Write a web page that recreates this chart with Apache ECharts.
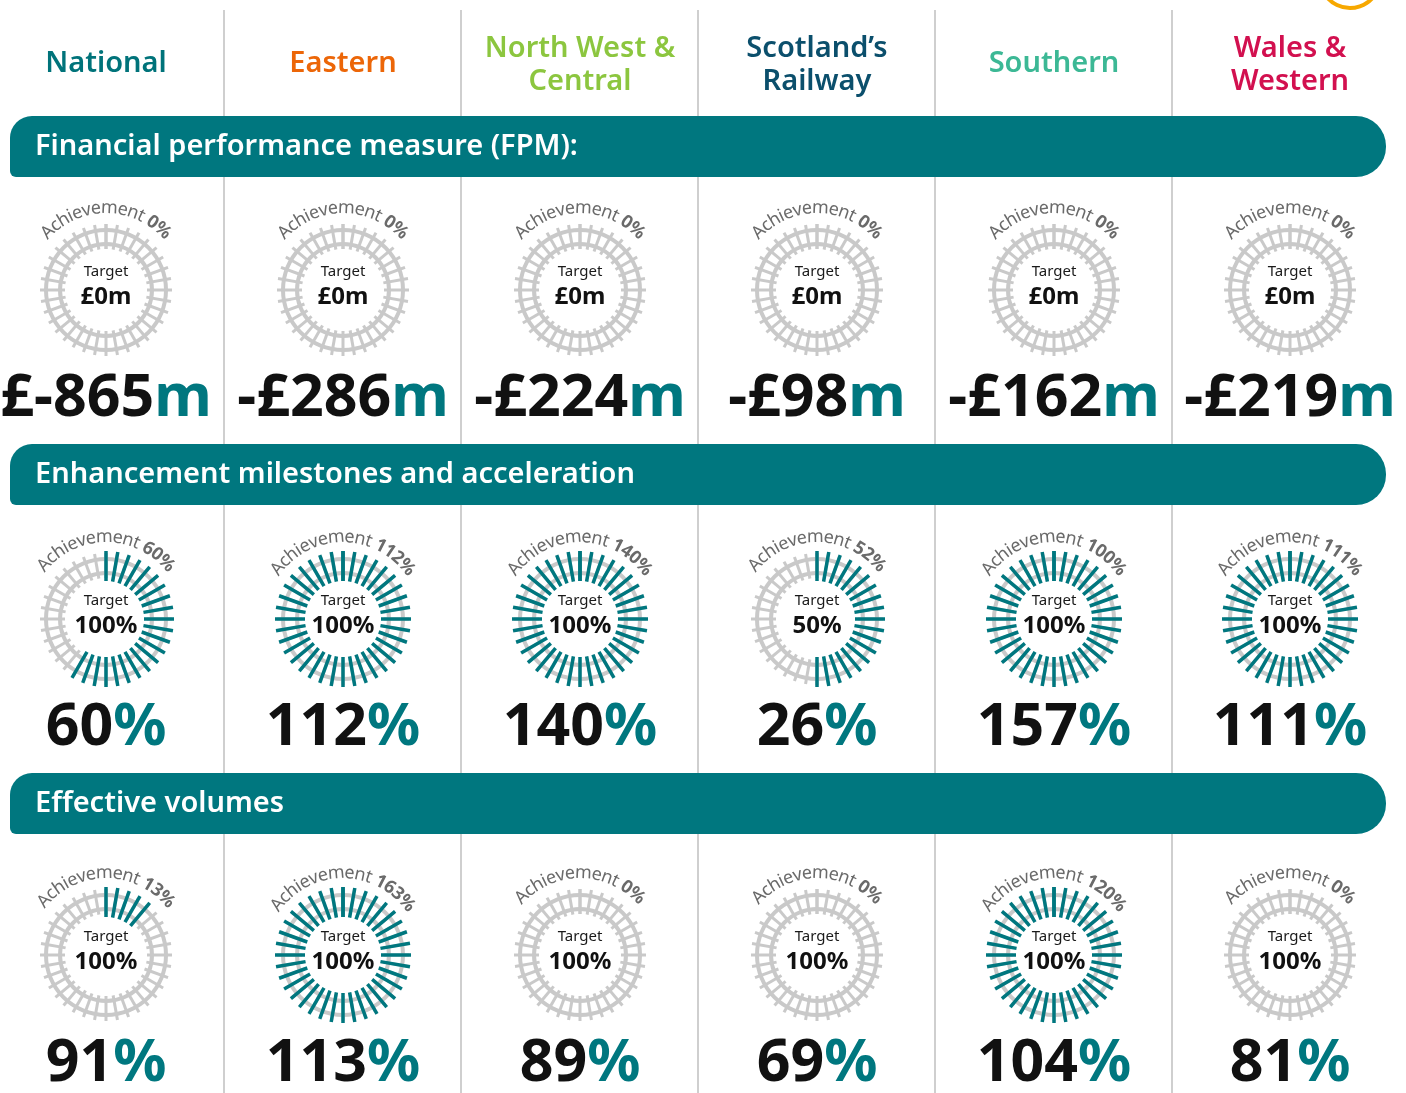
<!DOCTYPE html>
<html>
<head>
<meta charset="utf-8">
<script src="https://cdn.jsdelivr.net/npm/echarts@6/dist/echarts.min.js"></script>
<style>
  html, body { margin: 0; padding: 0; background: #fff; }
  #main { width: 1406px; height: 1093px; }
</style>
</head>
<body>
<div id="main"></div>
<script>
// region columns
var regions = ['National', 'Eastern', 'North West &\nCentral', 'Scotland\u2019s\nRailway', 'Southern', 'Wales &\nWestern'];
var sections = ['Financial performance measure (FPM):', 'Enhancement milestones and acceleration', 'Effective volumes'];

// FPM row
var fpmAchievement = [0, 0, 0, 0, 0, 0];
var fpmTarget = ['\u00a30m', '\u00a30m', '\u00a30m', '\u00a30m', '\u00a30m', '\u00a30m'];
var fpmActual = ['\u00a3-865', '-\u00a3286', '-\u00a3224', '-\u00a398', '-\u00a3162', '-\u00a3219'];

// enhancement row
var enhAchievement = [60, 112, 140, 52, 100, 111];
var enhTarget = ['100%', '100%', '100%', '50%', '100%', '100%'];
var enhActual = [60, 112, 140, 26, 157, 111];

// effective volumes row
var volAchievement = [13, 163, 0, 0, 120, 0];
var volTarget = ['100%', '100%', '100%', '100%', '100%', '100%'];
var volActual = [91, 113, 89, 69, 104, 81];

var TEAL = '#00777f';
var GREY = '#c9c9c9';
var FONT = '"Noto Sans", "Open Sans", sans-serif';
var headColors = ['#00737a', '#ec6608', '#8cc63f', '#0b4f6c', '#3cb895', '#d2104f'];

var colX = [106, 343, 580, 817, 1054, 1290];
var dividerX = [224, 461, 698, 935, 1172];
var bannerY = [116, 444, 773];
var gaugeY = [290, 619, 955];
var bigY = [399, 728, 1064];

var rows = [
  { ach: fpmAchievement, target: fpmTarget, actual: fpmActual, unit: 'm' },
  { ach: enhAchievement, target: enhTarget, actual: enhActual, unit: '%' },
  { ach: volAchievement, target: volTarget, actual: volActual, unit: '%' }
];

var chart = echarts.init(document.getElementById('main'));

// measuring text for the curved labels
var ctx = document.createElement('canvas').getContext('2d');
function measure(txt, weight, size) {
  ctx.font = weight + ' ' + size + 'px ' + FONT;
  return ctx.measureText(txt).width;
}

function arcText(cx, cy, r, parts) {
  var out = [];
  var total = 0;
  parts.forEach(function (p) { total += measure(p.text, p.weight, p.size); });
  var acc = 0;
  var start = -total / 2 / r;
  parts.forEach(function (p) {
    for (var i = 0; i < p.text.length; i++) {
      var ch = p.text[i];
      var w = measure(ch, p.weight, p.size);
      var a = start + (acc + w / 2) / r;
      acc += w;
      if (ch === ' ') continue;
      out.push({
        type: 'text',
        x: cx + r * Math.sin(a),
        y: cy - r * Math.cos(a),
        rotation: -a,
        silent: true,
        style: {
          text: ch, x: 0, y: 0, align: 'center', verticalAlign: 'middle',
          fill: '#6a6a6a', font: p.weight + ' ' + p.size + 'px ' + FONT
        }
      });
    }
  });
  return out;
}

function gaugeBase(cx, cy, v) {
  return {
    type: 'gauge',
    center: [cx, cy],
    startAngle: 90,
    endAngle: -270,
    min: 0,
    max: 100,
    splitNumber: 36,
    silent: true,
    animation: false,
    pointer: { show: false },
    anchor: { show: false },
    axisTick: { show: false },
    axisLabel: { show: false },
    detail: { show: false },
    title: { show: false },
    data: [{ value: v }]
  };
}

var series = [];
var graphics = [];

// column dividers
dividerX.forEach(function (x) {
  graphics.push({
    type: 'line', silent: true, z: 1,
    shape: { x1: x, y1: 10, x2: x, y2: 1093 },
    style: { stroke: '#cfcfcf', lineWidth: 2 }
  });
});

// little logo arc in the corner
graphics.push({
  type: 'arc', silent: true,
  shape: { cx: 1350, cy: -22, r: 30, startAngle: 0.45, endAngle: 2.6 },
  style: { stroke: '#f7a800', lineWidth: 4, fill: null }
});

// region headings
regions.forEach(function (name, i) {
  graphics.push({
    type: 'text', silent: true,
    x: colX[i], y: name.indexOf('\n') >= 0 ? 65 : 64,
    style: {
      text: name, align: 'center', verticalAlign: 'middle',
      font: '600 29px ' + FONT, fill: headColors[i], lineHeight: 33
    }
  });
});

// section banners
sections.forEach(function (s, k) {
  graphics.push({
    type: 'rect', silent: true, z: 5,
    shape: { x: 10, y: bannerY[k], width: 1376, height: 61, r: [22, 30, 30, 6] },
    style: { fill: TEAL }
  });
  graphics.push({
    type: 'text', silent: true, z: 6,
    x: 35, y: bannerY[k] + 31,
    style: { text: s, verticalAlign: 'middle', font: '600 29px ' + FONT, fill: '#fff' }
  });
});

rows.forEach(function (row, k) {
  var cy = gaugeY[k];
  row.ach.forEach(function (v, i) {
    var cx = colX[i];
    var stops = v > 0 ? [[Math.min(v, 100) / 100, TEAL], [1, 'rgba(0,0,0,0)']] : [[1, 'rgba(0,0,0,0)']];

    // outer rail + grey sleepers
    var g1 = gaugeBase(cx, cy, v);
    g1.radius = 62;
    g1.axisLine = { lineStyle: { width: 4, color: [[1, GREY]] } };
    g1.splitLine = { length: 25, distance: -8, lineStyle: { color: GREY, width: 3 } };
    series.push(g1);

    // inner rail
    var g2 = gaugeBase(cx, cy, v);
    g2.radius = 48;
    g2.axisLine = { lineStyle: { width: 4, color: [[1, GREY]] } };
    g2.splitLine = { show: false };
    series.push(g2);

    // achieved sleepers
    var g3 = gaugeBase(cx, cy, v);
    g3.radius = 68;
    g3.axisLine = { show: false, lineStyle: { width: 4, color: stops } };
    g3.splitLine = { length: 30, distance: -4, lineStyle: { color: 'auto', width: 3.5 } };
    series.push(g3);

    graphics = graphics.concat(arcText(cx, cy, 82, [
      { text: 'Achievement ', weight: 'normal', size: 18 },
      { text: v + '%', weight: 'bold', size: 18 }
    ]));

    graphics.push({
      type: 'text', silent: true, x: cx, y: cy - 18,
      style: { text: 'Target', align: 'center', verticalAlign: 'middle', font: '15px ' + FONT, fill: '#1a1a1a' }
    });
    graphics.push({
      type: 'text', silent: true, x: cx, y: cy + 7,
      style: { text: row.target[i], align: 'center', verticalAlign: 'middle', font: 'bold 24px ' + FONT, fill: '#111' }
    });

    graphics.push({
      type: 'text', silent: true, x: cx, y: bigY[k],
      style: {
        text: '{n|' + row.actual[i] + '}{u|' + row.unit + '}',
        align: 'center', verticalAlign: 'middle',
        rich: {
          n: { fontFamily: FONT, fontWeight: 'bold', fontSize: 59, fill: '#111' },
          u: { fontFamily: FONT, fontWeight: 'bold', fontSize: 59, fill: TEAL }
        }
      }
    });
  });
});

chart.setOption({
  animation: false,
  backgroundColor: '#fff',
  series: series,
  graphic: { elements: graphics }
});
</script>
</body>
</html>
